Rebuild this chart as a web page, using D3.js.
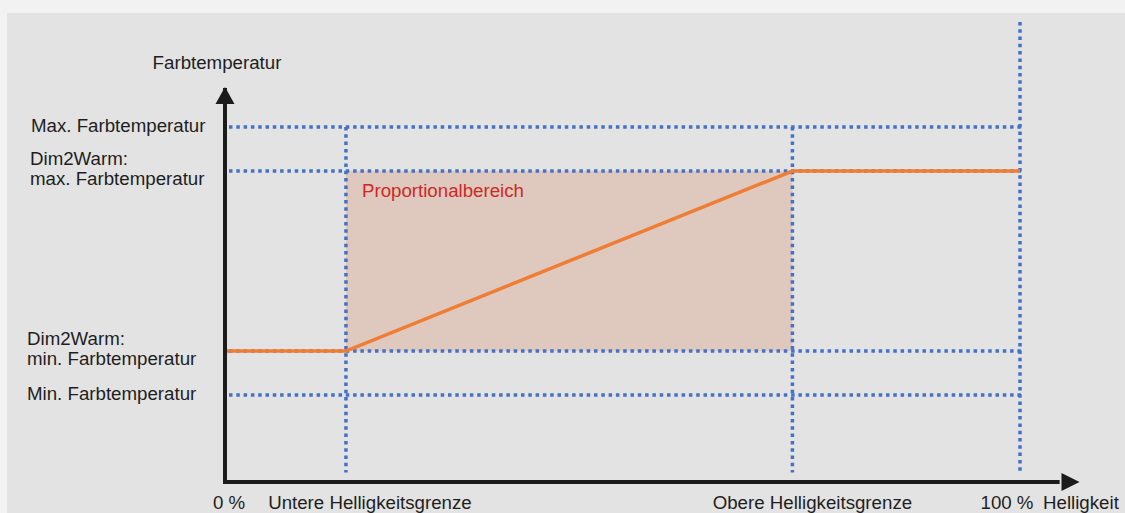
<!DOCTYPE html>
<html lang="de">
<head>
    <meta charset="UTF-8">
    <title>Dim2Warm Farbtemperatur</title>
    <script src="https://cdnjs.cloudflare.com/ajax/libs/d3/7.8.5/d3.min.js"></script>
    <style>
        html, body {
            margin: 0;
            padding: 0;
            background: #f2f2f2;
        }
        svg {
            display: block;
            font-family: "Liberation Sans", Arial, Helvetica, sans-serif;
        }
    </style>
</head>
<body>
    <svg id="chart" width="1125" height="513"></svg>

    <script>
        // brightness positions (% of 0..100)
        const brightnessMarks = [
            { key: "zero", value: 0, label: "0 %" },
            { key: "lower", value: 15, label: "Untere Helligkeitsgrenze" },
            { key: "upper", value: 71.3, label: "Obere Helligkeitsgrenze" },
            { key: "full", value: 100, label: "100 %" }
        ];

        // colour temperature levels (relative scale 0..100)
        const tempLevels = [
            { key: "max", value: 100, label: ["Max. Farbtemperatur"] },
            { key: "d2wMax", value: 87.6, label: ["Dim2Warm:", "max. Farbtemperatur"] },
            { key: "d2wMin", value: 36.9, label: ["Dim2Warm:", "min. Farbtemperatur"] },
            { key: "min", value: 24.5, label: ["Min. Farbtemperatur"] }
        ];

        // the orange curve: brightness -> colour temperature
        const curveBrightness = [0, 15, 71.3, 100];
        const curveTemp = [36.9, 36.9, 87.6, 87.6];

        const axisTitleY = "Farbtemperatur";
        const axisTitleX = "Helligkeit";
        const areaLabel = "Proportionalbereich";

        const svg = d3.select("#chart");
        const W = 1125, H = 513;
        const fs = 18.7;

        const x = d3.scaleLinear().domain([0, 100]).range([227, 1020]);
        const y = d3.scaleLinear().domain([0, 100]).range([482, 127]);

        const blue = "#4472c4";
        const textColor = "#1e1e1e";

        // grey panel
        svg.append("rect")
            .attr("x", 7).attr("y", 13)
            .attr("width", W - 7).attr("height", H - 13)
            .attr("fill", "#e3e3e3");

        const lvl = k => tempLevels.find(d => d.key === k).value;
        const bm = k => brightnessMarks.find(d => d.key === k).value;

        // proportional range area
        svg.append("rect")
            .attr("x", x(bm("lower")))
            .attr("y", y(lvl("d2wMax")))
            .attr("width", x(bm("upper")) - x(bm("lower")))
            .attr("height", y(lvl("d2wMin")) - y(lvl("d2wMax")))
            .attr("fill", "#dfc8bd");

        svg.append("text")
            .attr("x", x(bm("lower")) + 16)
            .attr("y", y(lvl("d2wMax")) + 26)
            .attr("fill", "#cc2a24")
            .attr("font-size", 18.7)
            .text(areaLabel);

        const dotted = sel => sel
            .attr("stroke", blue)
            .attr("stroke-width", 3.5)
            .attr("stroke-dasharray", "3.5,3.8")
            .attr("fill", "none");

        // horizontal guide lines
        svg.append("g")
            .selectAll("line")
            .data(tempLevels)
            .join("line")
            .attr("x1", x(0) + 2)
            .attr("x2", x(100) + 2)
            .attr("y1", d => y(d.value))
            .attr("y2", d => y(d.value))
            .call(dotted);

        // vertical guide lines
        svg.append("g")
            .selectAll("line")
            .data(brightnessMarks.filter(d => d.value > 0))
            .join("line")
            .attr("x1", d => x(d.value))
            .attr("x2", d => x(d.value))
            .attr("y1", d => d.key === "full" ? y(129.6) : y(100))
            .attr("y2", y(2.7))
            .call(dotted);

        // orange curve
        const line = d3.line()
            .x(d => x(d[0]))
            .y(d => y(d[1]));

        svg.append("path")
            .datum(curveBrightness.map((b, i) => [b, curveTemp[i]]))
            .attr("d", line)
            .attr("fill", "none")
            .attr("stroke", "#ef7d33")
            .attr("stroke-width", 3.5);

        // axes with arrows
        const axisColor = "#1b1b1b";
        const x0 = x(0) - 2, y0 = y(0);

        svg.append("path")
            .attr("d", `M${x0},${y0} V${y(111)}`)
            .attr("stroke", axisColor).attr("stroke-width", 4).attr("fill", "none");
        svg.append("path")
            .attr("d", `M${x0 - 2},${y0} H${x(105)}`)
            .attr("stroke", axisColor).attr("stroke-width", 4).attr("fill", "none");

        const yTip = y(111.3);
        svg.append("path")
            .attr("d", `M${x0},${yTip} L${x0 + 9.5},${yTip + 17} L${x0 - 9.5},${yTip + 17} Z`)
            .attr("fill", axisColor);
        const xTip = x(107.5);
        svg.append("path")
            .attr("d", `M${xTip},${y0} L${xTip - 18},${y0 - 9} L${xTip - 18},${y0 + 9} Z`)
            .attr("fill", axisColor);

        // axis titles
        svg.append("text")
            .attr("x", x0 - 8).attr("y", 69)
            .attr("text-anchor", "middle")
            .attr("font-size", fs).attr("fill", textColor)
            .text(axisTitleY);

        svg.append("text")
            .attr("x", 1043).attr("y", 509)
            .attr("font-size", fs).attr("fill", textColor)
            .text(axisTitleX);

        // y labels (two-line labels are split into separate text elements)
        const yLabelX = { max: 31, d2wMax: 30, d2wMin: 27, min: 27 };
        const lineGap = 20;
        const yLabelLines = tempLevels.flatMap(d => d.label.map((t, i) => ({
            key: d.key,
            text: t,
            baseline: d.label.length > 1
                ? y(d.value) + 14 - (d.label.length - 1 - i) * lineGap
                : y(d.value) + 5
        })));

        svg.append("g")
            .selectAll("text")
            .data(yLabelLines)
            .join("text")
            .attr("font-size", fs)
            .attr("fill", textColor)
            .attr("x", d => yLabelX[d.key])
            .attr("y", d => d.baseline)
            .text(d => d.text);

        // x labels
        const xOffsets = { zero: 2, lower: 24, upper: 20, full: -13 };
        svg.append("g")
            .selectAll("text")
            .data(brightnessMarks)
            .join("text")
            .attr("font-size", fs)
            .attr("fill", textColor)
            .attr("text-anchor", "middle")
            .attr("x", d => x(d.value) + xOffsets[d.key])
            .attr("y", 509)
            .text(d => d.label);
    </script>
</body>
</html>
